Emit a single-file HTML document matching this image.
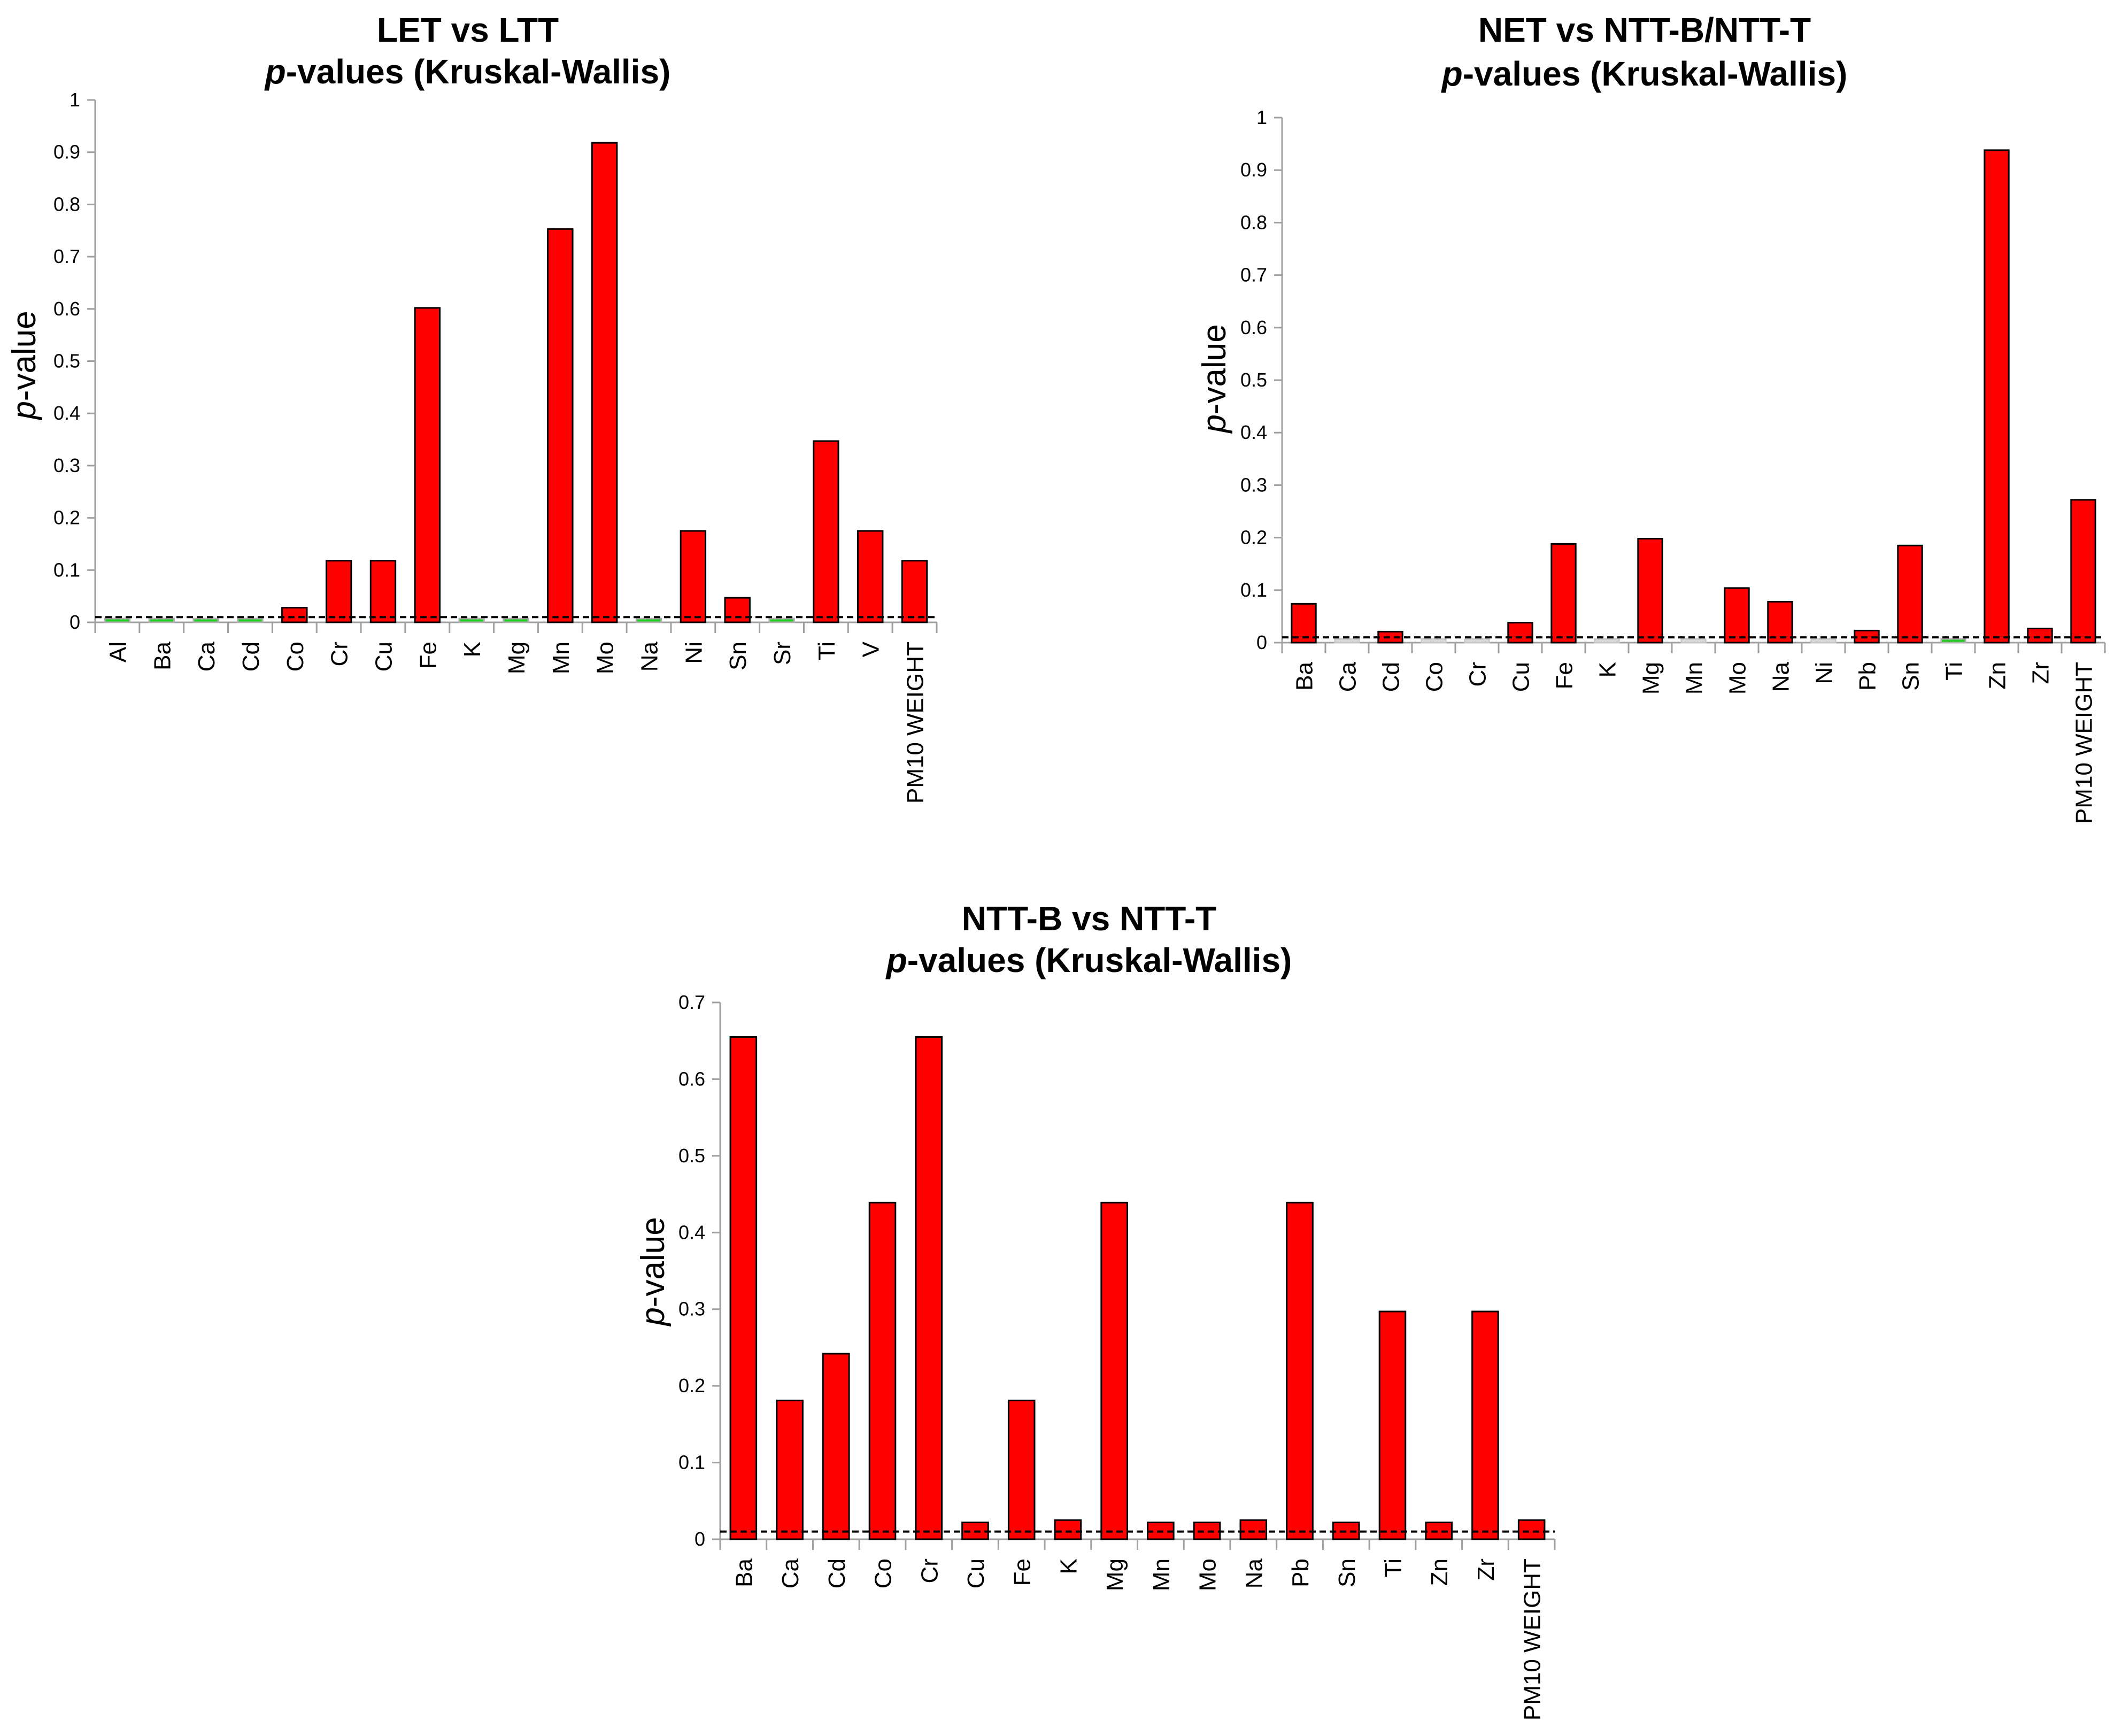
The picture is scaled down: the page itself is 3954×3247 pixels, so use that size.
<!DOCTYPE html>
<html><head><meta charset="utf-8"><style>
html,body{margin:0;padding:0;background:#fff;}
svg{display:block;font-family:"Liberation Sans",Arial,sans-serif;}
</style></head><body>
<svg id="fig" width="3954" height="3247" viewBox="0 0 3954 3247" xmlns="http://www.w3.org/2000/svg"></svg>
<script>
// Chart 1: LET vs LTT
const cats1 = ["Al","Ba","Ca","Cd","Co","Cr","Cu","Fe","K","Mg","Mn","Mo","Na","Ni","Sn","Sr","Ti","V","PM10 WEIGHT"];
const vals1 = [0.003,0.003,0.003,0.003,0.028,0.118,0.118,0.602,0.003,0.003,0.753,0.918,0.003,0.175,0.047,0.005,0.347,0.175,0.118];
const kind1 = ["g","g","g","g","r","r","r","r","g","g","r","r","g","r","r","g","r","r","r"];
const ticks1 = [0,0.1,0.2,0.3,0.4,0.5,0.6,0.7,0.8,0.9,1];
// Chart 2: NET vs NTT-B/NTT-T
const cats2 = ["Ba","Ca","Cd","Co","Cr","Cu","Fe","K","Mg","Mn","Mo","Na","Ni","Pb","Sn","Ti","Zn","Zr","PM10 WEIGHT"];
const vals2 = [0.074,0.002,0.021,0.001,0.002,0.038,0.188,0.002,0.198,0.002,0.104,0.078,0.001,0.023,0.185,0.005,0.938,0.027,0.272];
const kind2 = ["r","n","r","n","n","r","r","n","r","n","r","r","n","r","r","g","r","r","r"];
const ticks2 = [0,0.1,0.2,0.3,0.4,0.5,0.6,0.7,0.8,0.9,1];
// Chart 3: NTT-B vs NTT-T
const cats3 = ["Ba","Ca","Cd","Co","Cr","Cu","Fe","K","Mg","Mn","Mo","Na","Pb","Sn","Ti","Zn","Zr","PM10 WEIGHT"];
const vals3 = [0.655,0.181,0.242,0.439,0.655,0.022,0.181,0.025,0.439,0.022,0.022,0.025,0.439,0.022,0.297,0.022,0.297,0.025];
const kind3 = ["r","r","r","r","r","r","r","r","r","r","r","r","r","r","r","r","r","r"];
const ticks3 = [0,0.1,0.2,0.3,0.4,0.5,0.6,0.7];
const threshold = 0.01;

const NS="http://www.w3.org/2000/svg";
const svg=document.getElementById('fig');
function mk(tag,attrs,parent,text){const e=document.createElementNS(NS,tag);for(const k in attrs)e.setAttribute(k,attrs[k]);if(text!==undefined)e.textContent=text;(parent||svg).appendChild(e);return e;}

function chart(id,cfg,cats,vals,kinds,ticks){
  const g=mk('g',{});
  
  
  const {x0,x1,y0,yTop,ymax,tcx,t1y,t2y,ylx,yly,title1}=cfg;
  const ys=v=>y0-(v/ymax)*(y0-yTop);
  const bw=(x1-x0)/cats.length;
  const t1=mk('text',{x:tcx,y:t1y,'text-anchor':'middle','font-size':64,'font-weight':'bold'},g,title1);
  
  
  const t2=mk('text',{x:tcx,y:t2y,'text-anchor':'middle','font-size':64,'font-weight':'bold'},g);
  
  
  mk('tspan',{'font-style':'italic'},t2,'p');
  mk('tspan',{},t2,'-values (Kruskal-Wallis)');
  const yl=mk('text',{x:0,y:0,transform:`translate(${ylx},${yly}) rotate(-90)`,'text-anchor':'middle','font-size':62},g);
  
  
  mk('tspan',{'font-style':'italic'},yl,'p');
  mk('tspan',{},yl,'-value');
  const ax=mk('line',{x1:x0,y1:yTop,x2:x0,y2:y0,stroke:'#a0a0a0','stroke-width':3},g);
  
  
  const bx=mk('line',{x1:x0-15,y1:y0,x2:x1,y2:y0,stroke:'#a0a0a0','stroke-width':3},g);
  
  
  ticks.forEach(t=>{
    mk('line',{x1:x0-15,y1:ys(t),x2:x0,y2:ys(t),stroke:'#a0a0a0','stroke-width':3},g);
    const tl=mk('text',{x:x0-28,y:ys(t)+12,'text-anchor':'end','font-size':36},g,String(t));
    
    
  });
  for(let i=0;i<=cats.length;i++){
    mk('line',{x1:x0+i*bw,y1:y0,x2:x0+i*bw,y2:y0+20,stroke:'#a0a0a0','stroke-width':3},g);
  }
  cats.forEach((c,i)=>{
    const cx=x0+(i+0.5)*bw;
    const v=vals[i], k=kinds[i];
    const w=bw*0.56;
    const top=ys(v);
    let fill='#ff0000', stroke='#000';
    if(k==='g'){fill='#22cc22';stroke='#b0b0b0';}
    if(k==='n'){fill='#d8d8d8';stroke='#c8c8c8';}
    const h=k==='r'?(y0-top):Math.max(y0-top,7);
    const r=mk('rect',{x:cx-w/2,y:y0-h,width:w,height:h,fill:fill,stroke:stroke,'stroke-width':3},g);
    
    
    const lab=mk('text',{x:0,y:0,transform:`translate(${cx+16},${y0+36}) rotate(-90)`,'text-anchor':'end','font-size':44},g,c);
    
    
  });
  const th=mk('line',{x1:x0,y1:ys(threshold),x2:x1,y2:ys(threshold),stroke:'#000','stroke-width':4,'stroke-dasharray':'12 7'},g);
  
  
}

chart('chart-let-vs-ltt',{x0:178,x1:1752,y0:1164,yTop:187,ymax:1,tcx:875,t1y:78,t2y:156,ylx:66,yly:683,title1:'LET vs LTT'},cats1,vals1,kind1,ticks1);
chart('chart-net-vs-ntt',{x0:2398,x1:3937,y0:1202,yTop:220,ymax:1,tcx:3076,t1y:78,t2y:160,ylx:2292,yly:708,title1:'NET vs NTT-B/NTT-T'},cats2,vals2,kind2,ticks2);
chart('chart-nttb-vs-nttt',{x0:1347,x1:2908,y0:2879,yTop:1875,ymax:0.7,tcx:2037,t1y:1740,t2y:1818,ylx:1242,yly:2378,title1:'NTT-B vs NTT-T'},cats3,vals3,kind3,ticks3);
</script>
</body></html>
